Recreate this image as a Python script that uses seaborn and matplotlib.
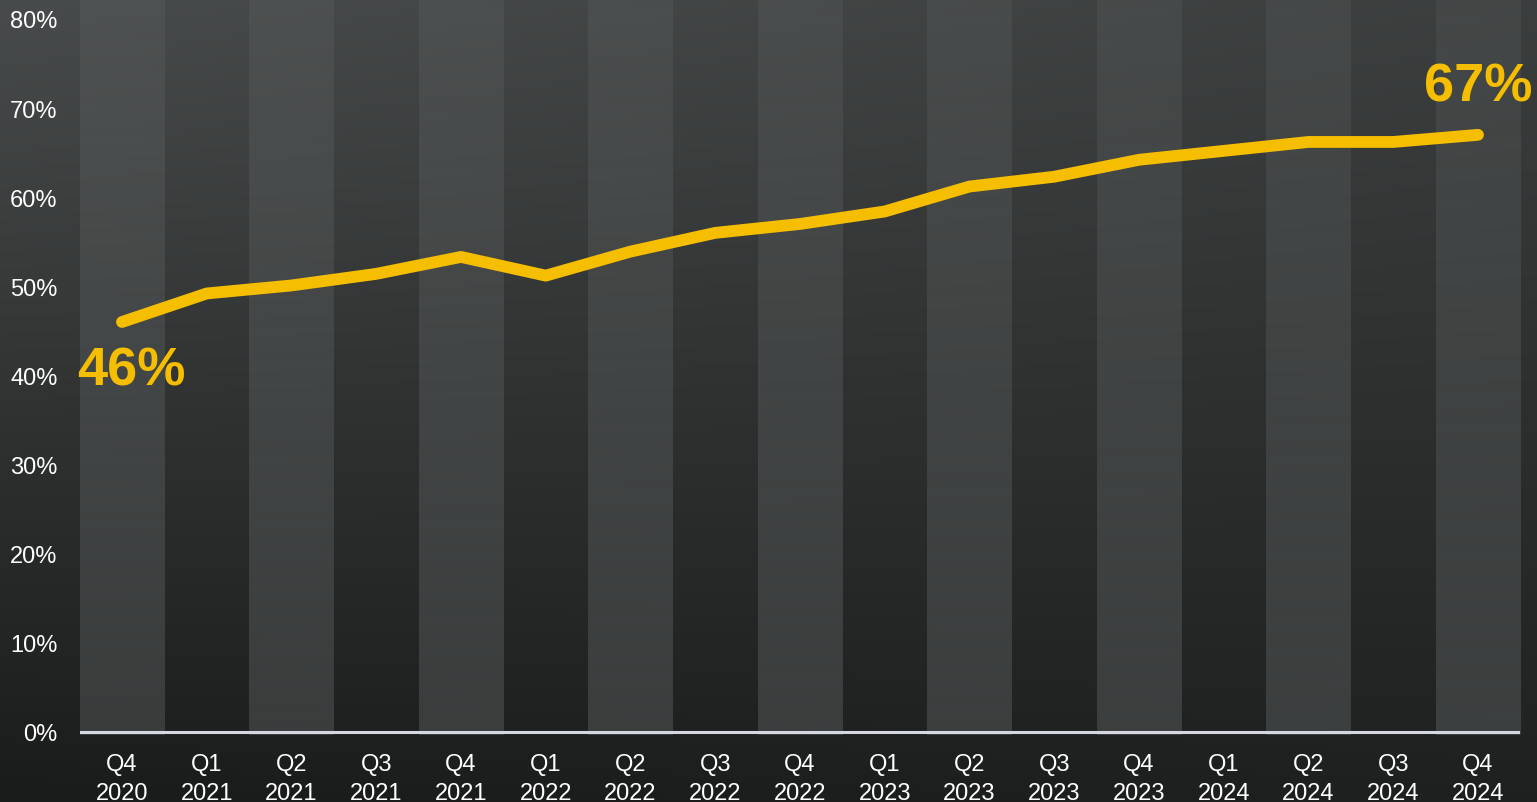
import numpy as np
import pandas as pd
import matplotlib
matplotlib.use("Agg")
import matplotlib.pyplot as plt
import seaborn as sns

# Quarterly share (%)
quarters = ["Q4\n2020", "Q1\n2021", "Q2\n2021", "Q3\n2021", "Q4\n2021",
            "Q1\n2022", "Q2\n2022", "Q3\n2022", "Q4\n2022",
            "Q1\n2023", "Q2\n2023", "Q3\n2023", "Q4\n2023",
            "Q1\n2024", "Q2\n2024", "Q3\n2024", "Q4\n2024"]
share = [46, 49.2, 50.1, 51.4, 53.3, 51.2, 53.9, 56.0, 57.0,
         58.4, 61.2, 62.3, 64.2, 65.2, 66.2, 66.2, 67]
y_ticks = [0, 10, 20, 30, 40, 50, 60, 70, 80]
y_tick_labels = ["0%", "10%", "20%", "30%", "40%", "50%", "60%", "70%", "80%"]

YELLOW = "#F5BE00"
TEXT = "#FFFFFF"

sns.set_theme(style="white")
plt.rcParams["font.family"] = ["Liberation Sans", "DejaVu Sans"]

fig = plt.figure(figsize=(15.37, 8.03), dpi=100)

# Dark gradient backdrop
bg = fig.add_axes([0, 0, 1, 1], zorder=0)
h, w = 200, 400
yy, xx = np.mgrid[0:1:h * 1j, 0:1:w * 1j]
level = 0.295 - 0.19 * yy - 0.05 * xx * (1 - yy) + 0.02 * xx * yy
level = np.clip(level, 0.09, 0.32)
rgb = np.dstack([level * 0.96, level * 1.0, level * 1.0])
bg.imshow(rgb, aspect="auto", extent=[0, 1, 0, 1], origin="upper")
bg.set_axis_off()

df = pd.DataFrame({"quarter": quarters, "share": share})

ax = fig.add_axes([79.6 / 1537, (803 - 736) / 803, 1440.8 / 1537, 736 / 803], zorder=1)
ax.patch.set_alpha(0)
y_lo, y_hi = -0.34, 82.24

# Alternating light columns, fading toward the top
fade = np.linspace(0.05, 0.14, 100)[:, None]
band = np.zeros((100, 1, 4))
band[..., :3] = [0.93, 0.97, 0.97]
band[..., 3] = fade
for i in range(0, len(quarters), 2):
    ax.imshow(band, extent=[i - 0.5, i + 0.5, y_lo, y_hi], origin="upper",
              aspect="auto", zorder=0, interpolation="bilinear")

sns.lineplot(data=df, x="quarter", y="share", sort=False, ax=ax,
             color=YELLOW, linewidth=8.5, zorder=3)
for ln in ax.lines:
    ln.set_solid_capstyle("round")
    ln.set_solid_joinstyle("round")

ax.axhline(0, color="#d4d8e2", lw=2.2, zorder=2)

ax.set_xlim(-0.5, len(quarters) - 0.5)
ax.set_ylim(y_lo, y_hi)
ax.set_yticks(y_ticks)
ax.set_yticklabels(y_tick_labels)
ax.set_xticks(range(len(quarters)))
ax.set_xticklabels(quarters, linespacing=1.38)
ax.tick_params(axis="y", length=0, pad=16, labelsize=17, labelcolor=TEXT)
ax.tick_params(axis="x", length=0, pad=13, labelsize=17, labelcolor=TEXT)
ax.set_xlabel("")
ax.set_ylabel("")
for s in ax.spines.values():
    s.set_visible(False)

# End-point value callouts
ax.annotate(f"{share[0]:.0f}%", xy=(0, share[0]), xytext=(7, -35),
            textcoords="offset points", ha="center", va="center",
            fontsize=39, fontweight="bold", color=YELLOW)
ax.annotate(f"{share[-1]:.0f}%", xy=(len(share) - 1, share[-1]), xytext=(0, 35),
            textcoords="offset points", ha="center", va="center",
            fontsize=39, fontweight="bold", color=YELLOW)

fig.savefig("out.png", dpi=100)
